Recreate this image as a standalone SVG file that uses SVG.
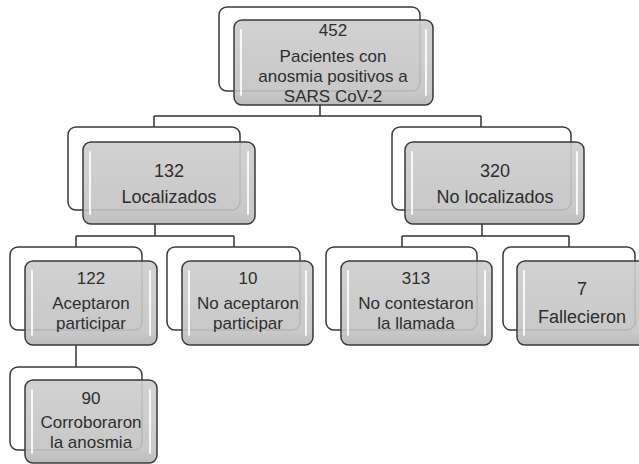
<svg xmlns="http://www.w3.org/2000/svg" width="639" height="464" viewBox="0 0 639 464">
<defs>
<linearGradient id="g" x1="0" y1="0" x2="0" y2="1">
<stop offset="0" stop-color="#cdcdcd"/>
<stop offset="0.85" stop-color="#c2c2c2"/>
<stop offset="1" stop-color="#b4b4b4"/>
</linearGradient>
</defs>
<style>
.back{fill:#ffffff;stroke:#3a3a3a;stroke-width:1.5}
.front{fill:url(#g);fill-opacity:0.9;stroke:#3a3a3a;stroke-width:1.5}
.hl{fill:none;stroke:#ffffff;stroke-opacity:0.85;stroke-width:2;stroke-linecap:round}
.conn{fill:none;stroke:#333333;stroke-width:1.5}
text{font-family:"Liberation Sans",Arial,sans-serif;font-size:18px;fill:#2e2e2e;text-anchor:middle}
.s{font-size:17px}
</style>
<rect width="639" height="464" fill="#ffffff"/>
<g id="connectors">
<path class="conn" d="M320,105 V116 M154,116 H481 M154,116 V127 M481,116 V127"/>
<path class="conn" d="M155,224 V236 M76,236 H234 M76,236 V247 M234,236 V247"/>
<path class="conn" d="M482,224 V236 M402,236 H569 M402,236 V247 M569,236 V247"/>
<path class="conn" d="M76,345 V367"/>
</g>
<g id="n452">
<rect class="back" x="219" y="7" width="201" height="84" rx="8"/>
<rect class="front" x="234" y="20" width="199" height="85" rx="8"/>
<path class="hl" d="M241,30 V95 M426,30 V95"/>
<text class="s" x="333" y="36">452</text>
<text class="s" x="333" y="62">Pacientes con</text>
<text class="s" x="333" y="82">anosmia positivos a</text>
<text class="s" x="333" y="102">SARS CoV-2</text>
</g>
<g id="n132">
<rect class="back" x="68" y="127" width="172" height="83" rx="8"/>
<rect class="front" x="83" y="142" width="172" height="82" rx="8"/>
<path class="hl" d="M90,152 V214 M248,152 V214"/>
<text x="169" y="177">132</text>
<text x="169" y="203">Localizados</text>
</g>
<g id="n320">
<rect class="back" x="392" y="127" width="179" height="83" rx="8"/>
<rect class="front" x="405" y="142" width="179" height="82" rx="8"/>
<path class="hl" d="M412,152 V214 M577,152 V214"/>
<text x="495" y="177">320</text>
<text x="495" y="203">No localizados</text>
</g>
<g id="n122">
<rect class="back" x="10" y="247" width="132" height="83" rx="8"/>
<rect class="front" x="25" y="261" width="132" height="84" rx="8"/>
<path class="hl" d="M32,271 V335 M150,271 V335"/>
<text class="s" x="91" y="284">122</text>
<text class="s" x="91" y="309">Aceptaron</text>
<text class="s" x="91" y="329">participar</text>
</g>
<g id="n10">
<rect class="back" x="167" y="247" width="133" height="83" rx="8"/>
<rect class="front" x="182" y="261" width="131" height="84" rx="8"/>
<path class="hl" d="M189,271 V335 M306,271 V335"/>
<text class="s" x="248" y="284">10</text>
<text class="s" x="248" y="309">No aceptaron</text>
<text class="s" x="248" y="329">participar</text>
</g>
<g id="n313">
<rect class="back" x="326" y="247" width="151" height="83" rx="8"/>
<rect class="front" x="341" y="261" width="151" height="84" rx="8"/>
<path class="hl" d="M348,271 V335 M485,271 V335"/>
<text class="s" x="416" y="284">313</text>
<text class="s" x="416" y="309">No contestaron</text>
<text class="s" x="416" y="329">la llamada</text>
</g>
<g id="n7">
<rect class="back" x="503" y="247" width="132" height="83" rx="8"/>
<rect class="front" x="517" y="261" width="132" height="84" rx="8"/>
<path class="hl" d="M524,271 V335"/>
<text x="582" y="295">7</text>
<text x="582" y="323">Fallecieron</text>
</g>
<g id="n90">
<rect class="back" x="10" y="367" width="132" height="83" rx="8"/>
<rect class="front" x="25" y="380" width="132" height="83" rx="8"/>
<path class="hl" d="M32,390 V453 M150,390 V453"/>
<text class="s" x="91" y="404">90</text>
<text class="s" x="91" y="428">Corroboraron</text>
<text class="s" x="91" y="448">la anosmia</text>
</g>
</svg>
